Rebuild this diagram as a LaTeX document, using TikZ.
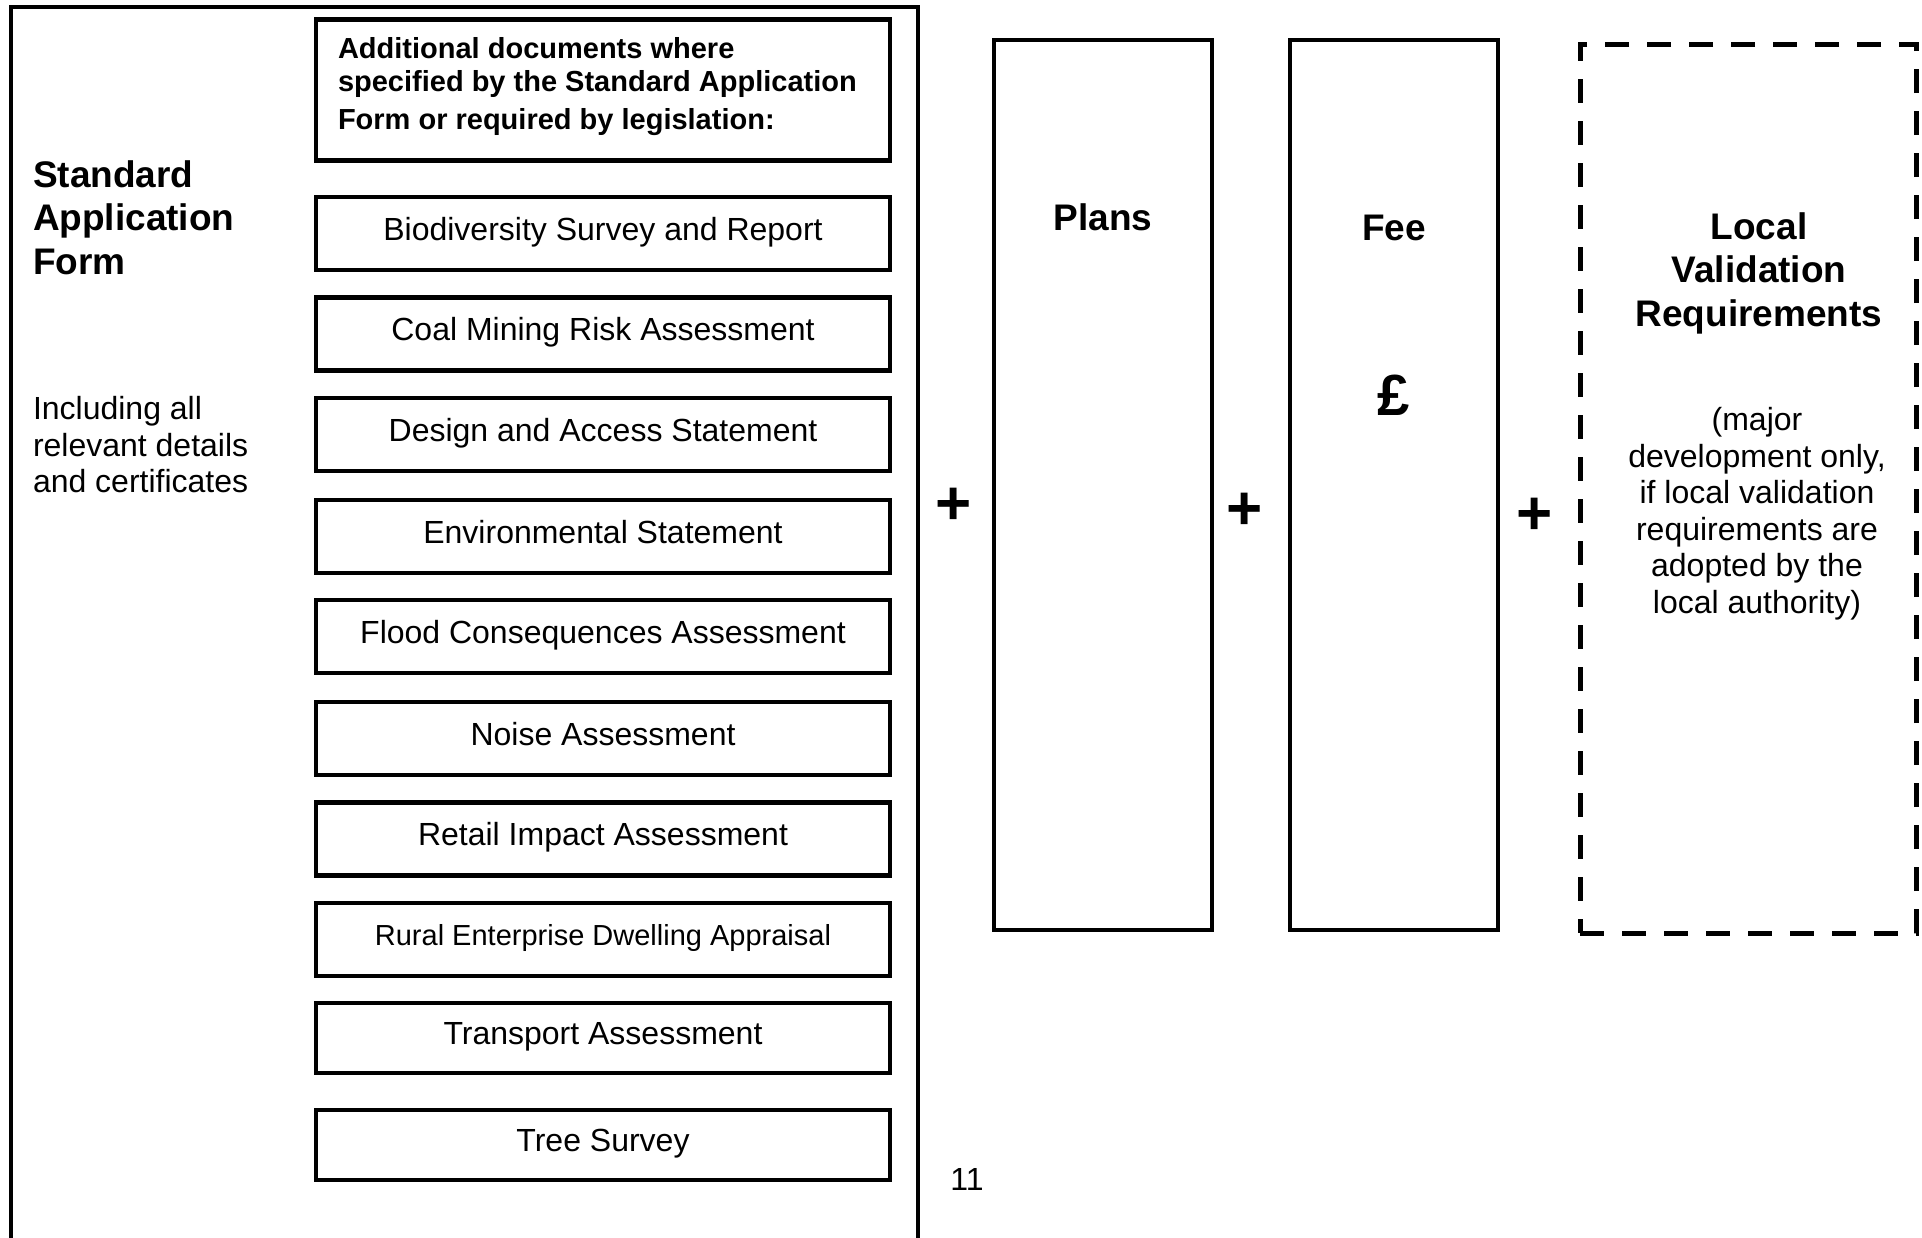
\documentclass[tikz,border=0pt]{standalone}
\usepackage{fontspec}
\setmainfont{Liberation Sans}
\begin{document}
\begin{tikzpicture}[x=1pt,y=-1pt,
  every node/.style={inner sep=0pt, outer sep=0pt},
  frame/.style={line width=4pt},
  docbox/.style={draw, line width=4.8pt, minimum width=574pt, minimum height=73pt, font=\fontsize{32}{36}\selectfont, text height=23pt, text depth=10pt},
  colbox/.style={draw, line width=4.8pt, minimum height=890pt},
  dashbox/.style={draw, line width=5pt, dash pattern=on 24pt off 18pt, minimum width=336pt, minimum height=889pt},
  head/.style={font=\fontsize{37}{43.5}\selectfont\bfseries},
  subhead/.style={font=\fontsize{29}{33}\selectfont\bfseries},
  body/.style={font=\fontsize{32}{36.5}\selectfont},
  plus/.style={font=\fontsize{62}{64}\selectfont\bfseries},
]
\useasboundingbox (0,0) rectangle (1922,1237);
\fill[white] (0,0) rectangle (1922,1237);

% outer frame (open at bottom, runs off the page)
\draw[frame] (11,1250) -- (11,7) -- (918,7) -- (918,1250);

% left column texts
\node[head, align=left, anchor=north west] (saf) at (33,160.5) {Standard\\Application\\Form};
\node[body, align=left, anchor=north west] (incl) at (33,396.5) {Including all\\relevant details\\and certificates};

% additional documents header box
\node[draw, line width=4.8pt, minimum width=574pt, minimum height=141pt] (addbox) at (603,90) {};
\node[subhead, align=left, anchor=north west] (addtxt) at (338,37.5) {Additional documents where\\specified by the Standard Application\\[5pt]Form or required by legislation:};

% document boxes
\node[docbox] (d1) at (603,233.5) {Biodiversity Survey and Report};
\node[docbox] (d2) at (603,334) {Coal Mining Risk Assessment};
\node[docbox] (d3) at (603,434.5) {Design and Access Statement};
\node[docbox] (d4) at (603,536.5) {Environmental Statement};
\node[docbox] (d5) at (603,636.5) {Flood Consequences Assessment};
\node[docbox] (d6) at (603,738.5) {Noise Assessment};
\node[docbox] (d7) at (603,839) {Retail Impact Assessment};
\node[docbox, font=\fontsize{29}{33}\selectfont, text height=21pt, text depth=10pt] (d8) at (603,939.5) {Rural Enterprise Dwelling Appraisal};
\node[docbox, minimum height=70pt] (d9) at (603,1038) {Transport Assessment};
\node[docbox, minimum height=70pt] (d10) at (603,1145) {Tree Survey};

% page number
\node[body] (pg) at (967,1179) {11};

% plus signs
\node[plus] (p1) at (954,506) {+};
\node[plus] (p2) at (1245,511) {+};
\node[plus] (p3) at (1535,516) {+};

% Plans column
\node[colbox, minimum width=218pt] (plans) at (1103,485) {};
\node[head] (planstxt) at (1103,217) {Plans};

% Fee column
\node[colbox, minimum width=208pt] (fee) at (1394,485) {};
\node[head] (feetxt) at (1394,228) {Fee};
\node[font=\fontsize{58}{60}\selectfont\bfseries] (pound) at (1394,395) {£};

% Local validation column
\node[dashbox] (lvr) at (1748,488.5) {};
\node[head, align=center, anchor=north] (lvrtxt) at (1759,212.5) {Local\\Validation\\Requirements};
\node[body, align=center, anchor=north] (lvrnote) at (1757,407.5) {(major\\development only,\\if local validation\\requirements are\\adopted by the\\local authority)};
\end{tikzpicture}
\end{document}
